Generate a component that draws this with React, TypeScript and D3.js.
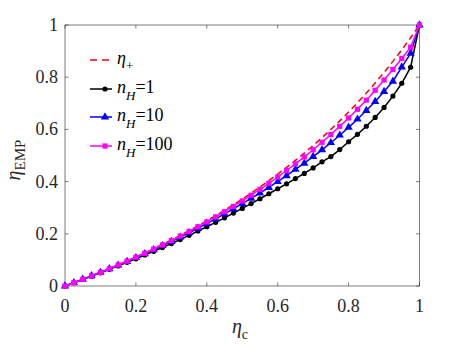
import React from 'react';
import * as d3 from 'd3';

// eta_c sample points (step 0.025)
const etaC = d3.range(0, 41).map(i => i / 40);

// upper bound eta_+
const etaPlus = [0, 0.0127, 0.0256, 0.0390, 0.0526, 0.0667, 0.0811, 0.0959, 0.1111, 0.1268,
    0.1429, 0.1594, 0.1765, 0.1940, 0.2121, 0.2308, 0.25, 0.2698, 0.2903, 0.3115,
    0.3333, 0.3559, 0.3793, 0.4035, 0.4286, 0.4545, 0.4815, 0.5094, 0.5385, 0.5686,
    0.6, 0.6327, 0.6667, 0.7021, 0.7391, 0.7778, 0.8182, 0.8605, 0.9048, 0.9512, 1];

// n_H = 1
const nH1 = [0, 0.0125, 0.0250, 0.0378, 0.0506, 0.0637, 0.0771, 0.0909, 0.1041, 0.1188,
    0.1329, 0.1474, 0.1625, 0.1780, 0.1941, 0.2108, 0.2270, 0.2438, 0.2613, 0.2795,
    0.2973, 0.3159, 0.3343, 0.3535, 0.3726, 0.3915, 0.4115, 0.4314, 0.4525, 0.4756,
    0.4960, 0.5227, 0.5527, 0.5811, 0.6121, 0.6458, 0.6842, 0.7275, 0.7768, 0.8382, 1];

// n_H = 10
const nH10 = [0, 0.0126, 0.0254, 0.0386, 0.0519, 0.0657, 0.0797, 0.0939, 0.1085, 0.1235,
    0.1389, 0.1544, 0.1705, 0.1870, 0.2041, 0.2213, 0.2390, 0.2573, 0.2763, 0.2955,
    0.3153, 0.3359, 0.3563, 0.3775, 0.3996, 0.4225, 0.4465, 0.4704, 0.4955, 0.5216,
    0.5490, 0.5777, 0.6077, 0.6391, 0.6721, 0.7068, 0.7452, 0.7845, 0.8388, 0.8912, 1];

// n_H = 100
const nH100 = [0, 0.0127, 0.0255, 0.0388, 0.0523, 0.0663, 0.0805, 0.0951, 0.1101, 0.1255,
    0.1413, 0.1574, 0.1741, 0.1912, 0.2088, 0.2270, 0.2456, 0.2648, 0.2846, 0.3051,
    0.3261, 0.3479, 0.3703, 0.3935, 0.4176, 0.4425, 0.4680, 0.4944, 0.5220, 0.5506,
    0.5805, 0.6117, 0.6437, 0.6771, 0.7121, 0.7498, 0.7892, 0.8295, 0.8718, 0.9152, 1];

const tickVals = [0, 0.2, 0.4, 0.6, 0.8, 1];
const tickLabels = ['0', '0.2', '0.4', '0.6', '0.8', '1'];

const width = 463, height = 348;
const left = 65, right = 419.5, top = 25, bottom = 286;
const axisColor = '#262626';
const font = "'Liberation Serif', 'Times New Roman', serif";

export default function App() {
    let x = d3.scaleLinear().domain([0, 1]).range([left, right]);
    let y = d3.scaleLinear().domain([0, 1]).range([bottom, top]);

    let line = d3.line<number>()
        .x((d, i) => x(etaC[i]))
        .y(d => y(d));

    let tickLen = 3.5;
    let triangle = d3.symbol().type(d3.symbolTriangle).size(30)();

    // legend rows
    let legY = [60, 89, 117, 146];
    let legX0 = 90, legX1 = 112, legText = 117;
    let txt = {fontFamily: font};

    return (
        <svg width={width} height={height} style={{position: 'absolute', left: 0, top: 0, fontFamily: font}}>
            <rect width={width} height={height} fill="white"/>

            {/* box */}
            <rect x={left} y={top} width={right - left} height={bottom - top}
                  fill="none" stroke={axisColor} strokeWidth={0.6}/>

            {/* ticks */}
            {tickVals.map((t, i) => (
                <g key={'t' + i} stroke={axisColor} strokeWidth={0.6}>
                    <line x1={x(t)} x2={x(t)} y1={bottom} y2={bottom - tickLen}/>
                    <line x1={x(t)} x2={x(t)} y1={top} y2={top + tickLen}/>
                    <line x1={left} x2={left + tickLen} y1={y(t)} y2={y(t)}/>
                    <line x1={right} x2={right - tickLen} y1={y(t)} y2={y(t)}/>
                </g>
            ))}
            {tickVals.map((t, i) => (
                <text key={'xl' + i} x={x(t)} y={312} textAnchor="middle" fontSize={18}
                      fill={axisColor} style={txt}>{tickLabels[i]}</text>
            ))}
            {tickVals.map((t, i) => (
                <text key={'yl' + i} x={58} y={y(t) + 6} textAnchor="end" fontSize={18}
                      fill={axisColor} style={txt}>{tickLabels[i]}</text>
            ))}

            {/* axis labels */}
            <text x={240} y={333} textAnchor="middle" fontSize={20} fill={axisColor} style={txt}>
                <tspan fontStyle="italic">η</tspan>
                <tspan fontSize={14} dy={6}>c</tspan>
            </text>
            <text transform={`translate(20,160) rotate(-90)`} textAnchor="middle" fontSize={20}
                  fill={axisColor} style={txt}>
                <tspan fontStyle="italic">η</tspan>
                <tspan fontSize={15} dy={5}>EMP</tspan>
            </text>

            {/* eta_+ */}
            <path d={line(etaPlus) || ''} fill="none" stroke="#ff0000" strokeWidth={1.5}
                  strokeDasharray="6,4"/>

            {/* n_H = 1 */}
            <path d={line(nH1) || ''} fill="none" stroke="#000000" strokeWidth={1.5}/>
            {nH1.map((d, i) => (
                <circle key={'b' + i} cx={x(etaC[i])} cy={y(d)} r={2.6} fill="#000000"/>
            ))}

            {/* n_H = 10 */}
            <path d={line(nH10) || ''} fill="none" stroke="#0000ff" strokeWidth={1.5}/>
            {nH10.map((d, i) => (
                <path key={'t' + i} d={triangle || ''} transform={`translate(${x(etaC[i])},${y(d)})`}
                      fill="#0000ff"/>
            ))}

            {/* n_H = 100 */}
            <path d={line(nH100) || ''} fill="none" stroke="#ff00ff" strokeWidth={1.5}/>
            {nH100.map((d, i) => (
                <rect key={'s' + i} x={x(etaC[i]) - 2.6} y={y(d) - 2.6} width={5.2} height={5.2}
                      fill="#ff00ff"/>
            ))}

            {/* legend */}
            <line x1={legX0} x2={legX1} y1={legY[0]} y2={legY[0]} stroke="#ff0000"
                  strokeWidth={1.5} strokeDasharray="7,5"/>
            <text x={legText} y={legY[0] + 4} fontSize={18} fill="#000" style={txt}>
                <tspan fontStyle="italic">η</tspan>
                <tspan fontSize={13} dy={6}>+</tspan>
            </text>

            <line x1={legX0} x2={legX1} y1={legY[1]} y2={legY[1]} stroke="#000000" strokeWidth={1.5}/>
            <circle cx={(legX0 + legX1) / 2 + 4} cy={legY[1]} r={2.6} fill="#000000"/>

            <line x1={legX0} x2={legX1} y1={legY[2]} y2={legY[2]} stroke="#0000ff" strokeWidth={1.5}/>
            <path d={triangle || ''} transform={`translate(${(legX0 + legX1) / 2 + 4},${legY[2]})`}
                  fill="#0000ff"/>

            <line x1={legX0} x2={legX1} y1={legY[3]} y2={legY[3]} stroke="#ff00ff" strokeWidth={1.5}/>
            <rect x={(legX0 + legX1) / 2 + 4 - 2.6} y={legY[3] - 2.6} width={5.2} height={5.2}
                  fill="#ff00ff"/>

            {['1', '10', '100'].map((n, i) => (
                <text key={'lg' + i} x={legText} y={legY[i + 1] + 4} fontSize={18} fill="#000" style={txt}>
                    <tspan fontStyle="italic">n</tspan>
                    <tspan fontStyle="italic" fontSize={13} dy={7}>H</tspan>
                    <tspan dy={-7}>={n}</tspan>
                </text>
            ))}
        </svg>
    );
}
